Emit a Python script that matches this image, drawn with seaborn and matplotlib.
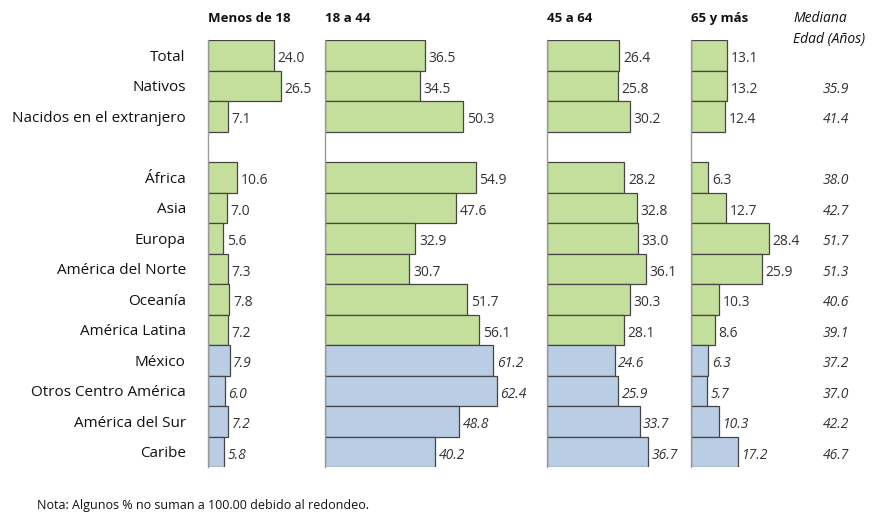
import pandas as pd
import matplotlib.pyplot as plt
import matplotlib.transforms as mtransforms
import seaborn as sns

# Datos
regiones = ['Total', 'Nativos', 'Nacidos en el extranjero', '',
            'África', 'Asia', 'Europa', 'América del Norte', 'Oceanía',
            'América Latina', 'México', 'Otros Centro América',
            'América del Sur', 'Caribe']
grupo = ['verde'] * 10 + ['azul'] * 4

menos_18 = [24.0, 26.5, 7.1, None, 10.6, 7.0, 5.6, 7.3, 7.8, 7.2, 7.9, 6.0, 7.2, 5.8]
de_18_44 = [36.5, 34.5, 50.3, None, 54.9, 47.6, 32.9, 30.7, 51.7, 56.1, 61.2, 62.4, 48.8, 40.2]
de_45_64 = [26.4, 25.8, 30.2, None, 28.2, 32.8, 33.0, 36.1, 30.3, 28.1, 24.6, 25.9, 33.7, 36.7]
mas_65 = [13.1, 13.2, 12.4, None, 6.3, 12.7, 28.4, 25.9, 10.3, 8.6, 6.3, 5.7, 10.3, 17.2]
mediana = [None, 35.9, 41.4, None, 38.0, 42.7, 51.7, 51.3, 40.6, 39.1, 37.2, 37.0, 42.2, 46.7]

paneles = ['Menos de 18', '18 a 44', '45 a 64', '65 y más']
limites = [42.5, 80.7, 52.4, 36.0]

df = pd.DataFrame({'region': regiones, 'grupo': grupo,
                   'Menos de 18': menos_18, '18 a 44': de_18_44,
                   '45 a 64': de_45_64, '65 y más': mas_65})
datos = df[df['region'] != '']

sns.set_style('white')
plt.rcParams['font.family'] = ['Open Sans', 'DejaVu Sans']

colores = {'verde': '#C4DF9B', 'azul': '#B9CDE5'}
texto = '#333333'

fig = plt.figure(figsize=(8.8, 5.32), dpi=100)
gs = fig.add_gridspec(1, 4, width_ratios=limites, wspace=0,
                      left=208 / 880, right=790 / 880,
                      top=1 - 40 / 532, bottom=1 - 467 / 532)

for i, (col, lim) in enumerate(zip(paneles, limites)):
    ax = fig.add_subplot(gs[0, i])
    sns.barplot(data=datos, x=col, y='region', order=regiones, hue='grupo',
                palette=colores, saturation=1, dodge=False, width=1.0,
                edgecolor='#454545', linewidth=0.9, legend=False, ax=ax)
    ax.set_xlim(0, lim)
    ax.set_ylim(len(regiones) - 0.5, -0.5)
    ax.set_xlabel('')
    ax.set_ylabel('')
    ax.set_xticks([])
    for s in ['top', 'right', 'bottom']:
        ax.spines[s].set_visible(False)
    ax.spines['left'].set_color('#9a9a9a')
    ax.spines['left'].set_linewidth(1.0)
    if i == 0:
        ax.tick_params(axis='y', length=0, pad=16, labelsize=11, labelcolor='#111111')
    else:
        ax.set_yticks([])
    for pos, (val, g) in enumerate(zip(df[col], df['grupo'])):
        if pd.isna(val):
            continue
        ax.text(val + 1.3, pos + 0.12, f'{val:.1f}', va='center', ha='left',
                fontsize=10, color=texto,
                style='italic' if g == 'azul' else 'normal')
    ax.text(0, 1.035, col, transform=ax.transAxes, ha='left', va='bottom',
            fontsize=9.5, fontweight='bold', color='#111111')
    ultimo = ax

# Mediana
trans = mtransforms.blended_transform_factory(fig.transFigure, ultimo.transData)
for pos, val in enumerate(mediana):
    if val is None:
        continue
    fig.text(836 / 880, pos + 0.12, f'{val:.1f}', transform=trans, ha='center',
             va='center', fontsize=10, style='italic', color=texto)
fig.text(793 / 880, 1 - 18 / 532, 'Mediana', ha='left', va='center',
         fontsize=10, style='italic', color='#111111')
fig.text(793 / 880, 1 - 40 / 532, 'Edad (Años)', ha='left', va='center',
         fontsize=10, style='italic', color='#111111')

fig.text(37 / 880, 1 - 505 / 532, 'Nota: Algunos % no suman a 100.00 debido al redondeo.',
         ha='left', va='center', fontsize=9, color='#111111')

fig.savefig('out.png', dpi=100)
